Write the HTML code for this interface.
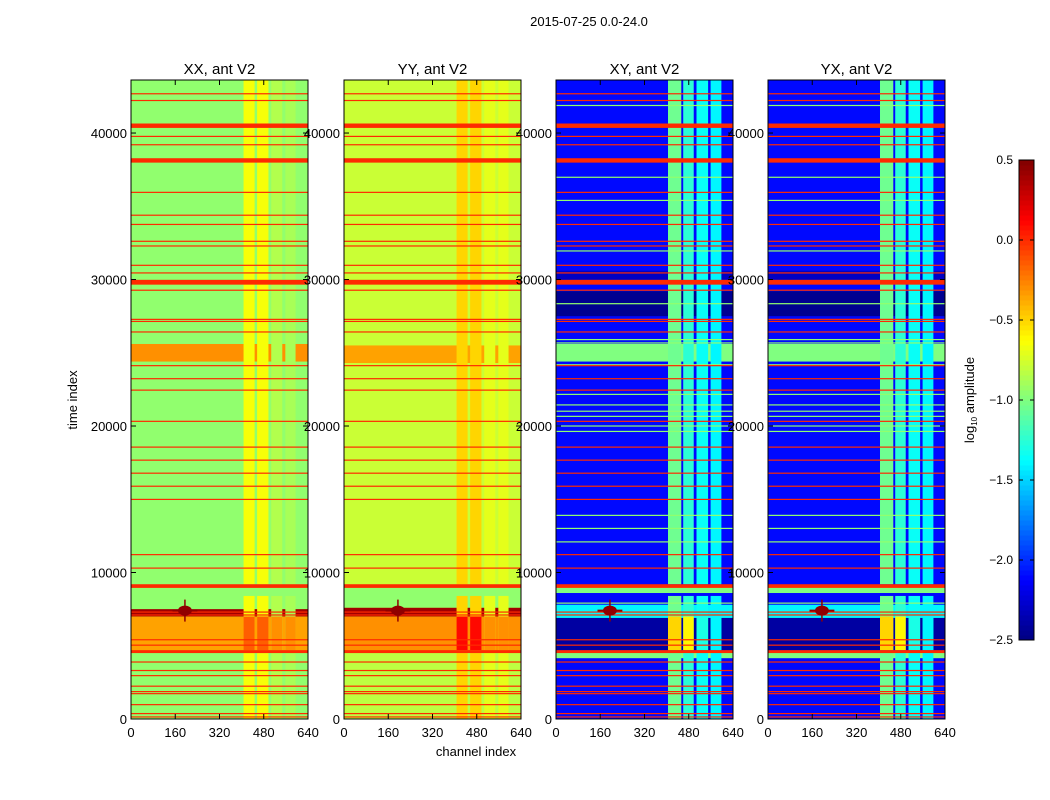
<!DOCTYPE html>
<html><head><meta charset="utf-8"><style>
body{margin:0;background:#fff;}
svg{display:block;font-family:"Liberation Sans",sans-serif;}
</style></head><body>
<svg id="fig" width="1050" height="800" viewBox="0 0 1050 800" xmlns="http://www.w3.org/2000/svg">
<rect width="1050" height="800" fill="#fff"/>
<text x="589" y="26" font-size="13" text-anchor="middle">2015-07-25 0.0-24.0</text>
<text x="476" y="756" font-size="13" text-anchor="middle">channel index</text>
<text x="77" y="400" font-size="13" text-anchor="middle" transform="rotate(-90 77 400)">time index</text>
<g id="panels"></g>
<g id="cbar"></g>
</svg>
<script>
// ---- data ----
const panelNames = ["XX, ant V2","YY, ant V2","XY, ant V2","YX, ant V2"];
const xTicks = [0,160,320,480,640];
const yTicks = [0,10000,20000,30000,40000];
const cbTicks = [0.5,0.0,-0.5,-1.0,-1.5,-2.0,-2.5];
const cbLabels = ["0.5","0.0","\u22120.5","\u22121.0","\u22121.5","\u22122.0","\u22122.5"];
// background bands [t0,t1,log amplitude]
const xxBands = [[0,43620,-0.95],[4600,7000,-0.35],[7000,7500,0.4],[24400,25600,-0.3]];
const yyBands = [[0,43620,-0.78],[0,4600,-0.82],[4600,7000,-0.3],[7000,7600,0.4],[7600,9000,-0.95],[24300,25500,-0.35]];
const xyBands = [[0,43620,-2.1],[27500,29200,-2.45],[29800,30600,-2.3],[4700,7000,-2.4],[24400,25600,-1.0],[6900,7800,-1.4],[8600,9000,-1.0],[4150,4550,-1.0]];
const yxBands = [[0,43620,-2.1],[27500,29200,-2.45],[29800,30600,-2.3],[4700,7000,-2.4],[24400,25600,-1.0],[6900,7800,-1.4],[8600,9000,-1.0],[4150,4550,-1.0]];
// vertical streaks [ch0,ch1,value,hotValue]
const xxStreaks = [[407,447,-0.65,-0.15],[456,497,-0.65,-0.15],[507,547,-0.85,-0.3],[558,595,-0.88,-0.3]];
const yyStreaks = [[407,447,-0.5,0.1],[456,497,-0.5,0.1],[507,547,-0.7,-0.3],[558,595,-0.7,-0.3]];
const xyStreaks = [[405,453,-1.05,-0.5],[460,498,-1.25,-0.6],[508,550,-1.35,-1.3],[559,598,-1.4,-1.4]];
const yxStreaks = [[405,453,-1.05,-0.5],[460,498,-1.25,-0.6],[508,550,-1.35,-1.3],[559,598,-1.4,-1.4]];
// time range where streaks appear, and hot range
const streakRanges = [[0,4500],[4700,8400],[9200,43620]];
const hotRange = [4600,7000];
// flagged rows
const redLines = [42680,42220,39770,39200,35950,34390,33760,32610,32290,30970,30450,29270,27280,27140,26420,24120,23230,22450,20320,18560,17670,16780,15890,14990,11220,10300,7300,7100,5410,5040,3890,3310,2960,2240,1870,1730,980,370,140];
const thickRed = [[40350,40650],[37980,38280],[29650,29980],[8950,9200],[4500,4700]];
const greenLines = [41880,36980,35400,31950,28350,25900,25670,24180,22160,21440,21010,20660,20000,19630,13900,13010,12090,7910];
// blobs [channel, time, value]
const blobs = [[195,7400,0.45]];
const panelBands = [xxBands,yyBands,xyBands,yxBands];
const panelStreaks = [xxStreaks,yyStreaks,xyStreaks,yxStreaks];
const panelGreen = [false,false,true,true];

// ---- layout ----
const panelX = [131,344,556,768];
const PW = 177, TOP = 80, BOT = 719, TMAX = 43620;
const ty = t => BOT - t/TMAX*(BOT-TOP);
function jet(v){
  const x = Math.max(0,Math.min(1,(v+2.5)/3));
  const c = a => Math.round(255*Math.max(0,Math.min(1,1.5-Math.abs(4*x-a))));
  return `rgb(${c(3)},${c(2)},${c(1)})`;
}
const NS = "http://www.w3.org/2000/svg";
function mk(tag, attrs, parent){
  const e = document.createElementNS(NS, tag);
  for (const k in attrs) e.setAttribute(k, attrs[k]);
  parent.appendChild(e); return e;
}
const panels = document.getElementById('panels');
panelNames.forEach((name, p) => {
  const x0 = panelX[p];
  const cx = c => x0 + c/640*PW;
  const g = mk('g', {}, panels);
  
  
  panelBands[p].forEach(b => {
    const r = mk('rect', {x:x0, y:ty(b[1]), width:PW, height:ty(b[0])-ty(b[1]), fill:jet(b[2])}, g);
    
    
  });
  panelStreaks[p].forEach(s => {
    streakRanges.forEach(rg => {
      const r = mk('rect', {x:cx(s[0]), y:ty(rg[1]), width:cx(s[1])-cx(s[0]), height:ty(rg[0])-ty(rg[1]), fill:jet(s[2])}, g);
      
      
    });
    const a = Math.max(hotRange[0], 4700);
    const r2 = mk('rect', {x:cx(s[0]), y:ty(hotRange[1]), width:cx(s[1])-cx(s[0]), height:ty(a)-ty(hotRange[1]), fill:jet(s[3])}, g);
    
    
  });
  if (panelGreen[p]) greenLines.forEach(t => {
    const l = mk('rect', {x:x0, y:ty(t)-0.6, width:PW, height:1.2, fill:jet(-0.95)}, g);
    
    
  });
  redLines.forEach(t => {
    const l = mk('rect', {x:x0, y:ty(t)-0.6, width:PW, height:1.2, fill:jet(0.0)}, g);
    
    
  });
  thickRed.forEach(b => {
    const l = mk('rect', {x:x0, y:ty(b[1]), width:PW, height:ty(b[0])-ty(b[1]), fill:jet(0.0)}, g);
    
    
  });
  blobs.forEach(bl => {
    const e = mk('ellipse', {cx:cx(bl[0]), cy:ty(bl[1]), rx:PW*25/640, ry:5, fill:jet(bl[2])}, g);
    
    
    mk('line', {x1:cx(bl[0]-45), x2:cx(bl[0]+45), y1:ty(bl[1]), y2:ty(bl[1]), stroke:jet(bl[2]), 'stroke-width':2}, g);
    mk('line', {x1:cx(bl[0]), x2:cx(bl[0]), y1:ty(bl[1])-11, y2:ty(bl[1])+11, stroke:jet(bl[2]), 'stroke-width':1.5}, g);
  });
  const f = mk('rect', {x:x0, y:TOP, width:PW, height:BOT-TOP, fill:'none', stroke:'#000', 'stroke-width':1}, g);
  
  
  const tt = mk('text', {x:x0+PW/2, y:74, 'font-size':15, 'text-anchor':'middle'}, g);
  tt.textContent = name;
  
  
  xTicks.forEach(v => {
    mk('line', {x1:cx(v), x2:cx(v), y1:BOT, y2:BOT-5, stroke:'#000'}, g);
    mk('line', {x1:cx(v), x2:cx(v), y1:TOP, y2:TOP+5, stroke:'#000'}, g);
    const t = mk('text', {x:cx(v), y:737, 'font-size':13, 'text-anchor':'middle'}, g);
    t.textContent = v;
    
    
  });
  yTicks.forEach(v => {
    mk('line', {x1:x0, x2:x0+5, y1:ty(v), y2:ty(v), stroke:'#000'}, g);
    mk('line', {x1:x0+PW, x2:x0+PW-5, y1:ty(v), y2:ty(v), stroke:'#000'}, g);
    const t = mk('text', {x:x0-4, y:ty(v)+5, 'font-size':13, 'text-anchor':'end'}, g);
    t.textContent = v;
    
    
  });
});
// colorbar
const cb = document.getElementById('cbar');


const CBT = 160, CBB = 640, CBX = 1019, CBW = 15;
const cy = v => CBB - (v+2.5)/3*(CBB-CBT);
for (let i = 0; i < 96; i++) {
  const v0 = -2.5 + i*3/96;
  mk('rect', {x:CBX, y:cy(v0+3/96), width:CBW, height:(CBB-CBT)/96+0.5, fill:jet(v0+1.5/96)}, cb);
}
mk('rect', {x:CBX, y:CBT, width:CBW, height:CBB-CBT, fill:'none', stroke:'#000'}, cb);
cbTicks.forEach((v,i) => {
  mk('line', {x1:CBX, x2:CBX+4, y1:cy(v), y2:cy(v), stroke:'#000'}, cb);
  mk('line', {x1:CBX+CBW, x2:CBX+CBW-4, y1:cy(v), y2:cy(v), stroke:'#000'}, cb);
  const t = mk('text', {x:1013, y:cy(v)+4, 'font-size':12, 'text-anchor':'end'}, cb);
  t.textContent = cbLabels[i];
  
  
});
const lab = mk('text', {x:974, y:400, 'font-size':13, 'text-anchor':'middle', transform:'rotate(-90 974 400)'}, cb);
lab.innerHTML = 'log<tspan font-size="8" dy="3">10</tspan><tspan dy="-3"> amplitude</tspan>';


</script>
</body></html>
